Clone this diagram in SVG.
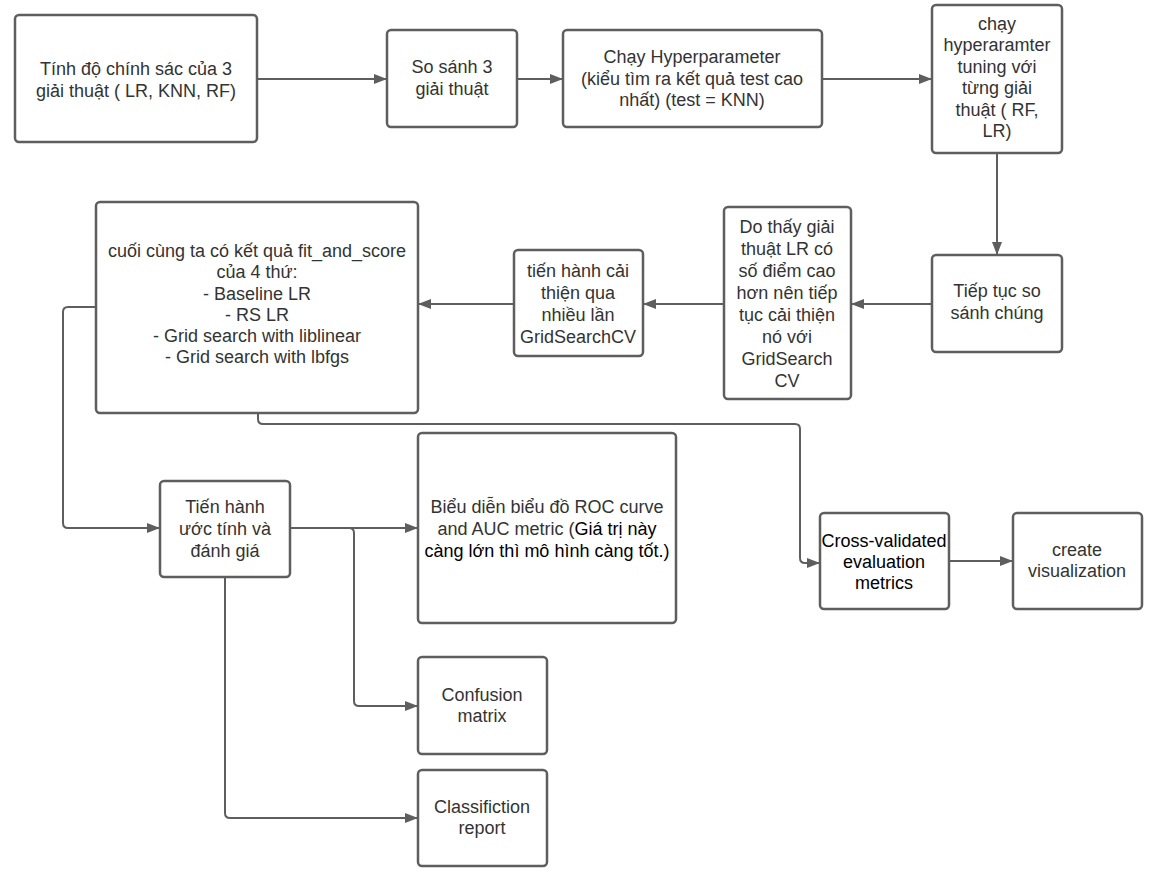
<svg xmlns="http://www.w3.org/2000/svg" width="1160" height="883" viewBox="0 0 1160 883">
<style>
.box{fill:#fff;stroke:#5e5e5e;stroke-width:2.5}
.t{font-family:"Liberation Sans",Arial,sans-serif;font-size:18px;fill:#333;text-anchor:middle}
.k{fill:#000}
.c{fill:none;stroke:#5e5e5e;stroke-width:2}
</style>
<defs>
<marker id="ah" markerUnits="userSpaceOnUse" markerWidth="13" markerHeight="10" refX="13" refY="5" orient="auto">
<path d="M0,0 L13,5 L0,10 z" fill="#5e5e5e"/>
</marker>
</defs>
<rect width="1160" height="883" fill="#fff"/>
<g id="connectors">
<path class="c" d="M257,79 H387" marker-end="url(#ah)"/>
<path class="c" d="M517,79 H563" marker-end="url(#ah)"/>
<path class="c" d="M822,79 H932" marker-end="url(#ah)"/>
<path class="c" d="M997,153 V255" marker-end="url(#ah)"/>
<path class="c" d="M932,304 H851" marker-end="url(#ah)"/>
<path class="c" d="M724,304 H643" marker-end="url(#ah)"/>
<path class="c" d="M514,304 H418" marker-end="url(#ah)"/>
<path class="c" d="M96,307 H68 Q63,307 63,312 V523 Q63,528 68,528 H160" marker-end="url(#ah)"/>
<path class="c" d="M258,413 V419 Q258,424 263,424 H795 Q800,424 800,429 V558 Q800,563 805,563 H820" marker-end="url(#ah)"/>
<path class="c" d="M290,528 H418" marker-end="url(#ah)"/>
<path class="c" d="M349,528 Q354,528 354,533 V701 Q354,706 359,706 H418" marker-end="url(#ah)"/>
<path class="c" d="M225,577 V813 Q225,818 230,818 H418" marker-end="url(#ah)"/>
<path class="c" d="M949,561 H1013" marker-end="url(#ah)"/>
</g>
<g id="n1">
<rect class="box" x="15" y="15" width="242" height="127" rx="4"/>
<text class="t" x="136" y="75">Tính độ chính sác của 3</text>
<text class="t" x="136" y="97">giải thuật ( LR, KNN, RF)</text>
</g>
<g id="n2">
<rect class="box" x="387" y="30" width="130" height="97" rx="4"/>
<text class="t" x="452" y="73">So sánh 3</text>
<text class="t" x="452" y="95">giải thuật</text>
</g>
<g id="n3">
<rect class="box" x="563" y="30" width="259" height="97" rx="4"/>
<text class="t" x="692" y="63">Chạy Hyperparameter</text>
<text class="t" x="692" y="85">(kiểu tìm ra kết quả test cao</text>
<text class="t" x="692" y="106">nhất) (test = KNN)</text>
</g>
<g id="n4">
<rect class="box" x="932" y="5" width="130" height="148" rx="4"/>
<text class="t" x="997" y="30">chạy</text>
<text class="t" x="997" y="51">hyperaramter</text>
<text class="t" x="997" y="73">tuning với</text>
<text class="t" x="997" y="94">từng giải</text>
<text class="t" x="997" y="116">thuật ( RF,</text>
<text class="t" x="997" y="137">LR)</text>
</g>
<g id="n5">
<rect class="box" x="932" y="255" width="130" height="97" rx="4"/>
<text class="t" x="997" y="297">Tiếp tục so</text>
<text class="t" x="997" y="319">sánh chúng</text>
</g>
<g id="n6">
<rect class="box" x="724" y="207" width="127" height="192" rx="4"/>
<text class="t" x="787" y="233">Do thấy giải</text>
<text class="t" x="787" y="255">thuật LR có</text>
<text class="t" x="787" y="277">số điểm cao</text>
<text class="t" x="787" y="299">hơn nên tiếp</text>
<text class="t" x="787" y="321">tục cải thiện</text>
<text class="t" x="787" y="343">nó với</text>
<text class="t" x="787" y="365">GridSearch</text>
<text class="t" x="787" y="387">CV</text>
</g>
<g id="n7">
<rect class="box" x="514" y="250" width="129" height="106" rx="4"/>
<text class="t" x="578" y="277">tiến hành cải</text>
<text class="t" x="578" y="299">thiện qua</text>
<text class="t" x="578" y="321">nhiều lần</text>
<text class="t" x="578" y="343">GridSearchCV</text>
</g>
<g id="n8">
<rect class="box" x="96" y="202" width="322" height="211" rx="4"/>
<text class="t" x="257" y="257">cuối cùng ta có kết quả fit_and_score</text>
<text class="t" x="257" y="278">của 4 thứ:</text>
<text class="t" x="257" y="300">- Baseline LR</text>
<text class="t" x="257" y="321">- RS LR</text>
<text class="t" x="257" y="342">- Grid search with liblinear</text>
<text class="t" x="257" y="363">- Grid search with lbfgs</text>
</g>
<g id="n9">
<rect class="box" x="160" y="481" width="130" height="96" rx="4"/>
<text class="t" x="225" y="513">Tiến hành</text>
<text class="t" x="225" y="535">ước tính và</text>
<text class="t" x="225" y="557">đánh giá</text>
</g>
<g id="n11">
<rect class="box" x="418" y="433" width="258" height="190" rx="4"/>
<text class="t" x="547" y="513">Biểu diễn biểu đồ ROC curve</text>
<text class="t" x="547" y="535">and AUC metric (<tspan class="k">Giá trị này</tspan></text>
<text class="t k" x="547" y="557">càng lớn thì mô hình càng tốt.)</text>
</g>
<g id="n12">
<rect class="box" x="418" y="657" width="129" height="97" rx="4"/>
<text class="t" x="482" y="701">Confusion</text>
<text class="t" x="482" y="722">matrix</text>
</g>
<g id="n13">
<rect class="box" x="418" y="770" width="129" height="96" rx="4"/>
<text class="t" x="482" y="813">Classifiction</text>
<text class="t" x="482" y="834">report</text>
</g>
<g id="n10">
<rect class="box" x="820" y="513" width="129" height="96" rx="4"/>
<text class="t k" x="884" y="547">Cross-validated</text>
<text class="t k" x="884" y="568">evaluation</text>
<text class="t k" x="884" y="589">metrics</text>
</g>
<g id="n14">
<rect class="box" x="1013" y="513" width="129" height="96" rx="4"/>
<text class="t" x="1077" y="556">create</text>
<text class="t" x="1077" y="577">visualization</text>
</g>
</svg>
